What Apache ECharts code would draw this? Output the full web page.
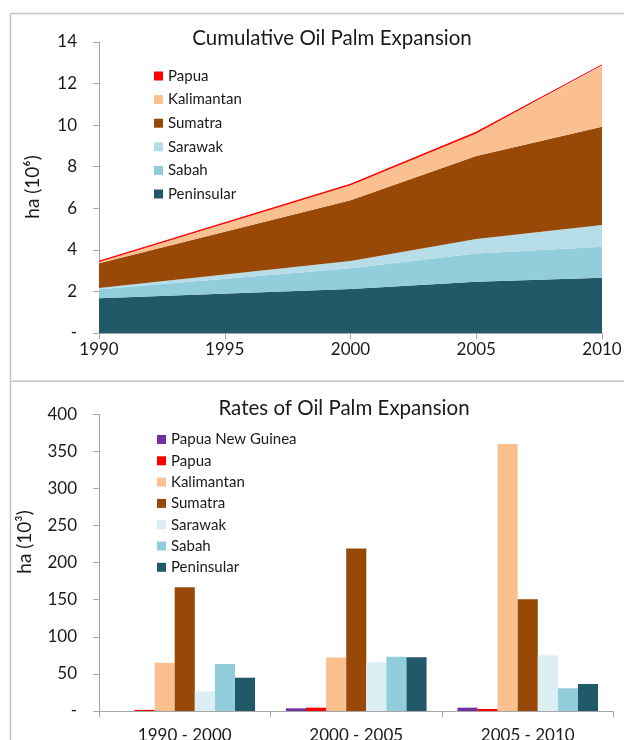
<!DOCTYPE html>
<html>
<head>
<meta charset="utf-8">
<script src="https://cdn.jsdelivr.net/npm/echarts@6/dist/echarts.min.js"></script>
<style>
html,body{margin:0;padding:0;background:#fff;}
#chart{width:624px;height:740px;}
</style>
</head>
<body>
<div id="chart"></div>
<script>
// ---- Cumulative chart data (layer thickness, ha x 10^6) ----
var years = [1990, 2000, 2005, 2010];
var cumPeninsular = [1.67, 2.12, 2.47, 2.66];
var cumSabah      = [0.43, 0.99, 1.36, 1.49];
var cumSarawak    = [0.06, 0.35, 0.69, 1.04];
var cumSumatra    = [1.19, 2.93, 3.99, 4.73];
var cumKalimantan = [0.07, 0.72, 1.09, 2.93];
var cumPapua      = [0.03, 0.04, 0.06, 0.05];

// ---- Rates chart data (ha x 10^3 per year) ----
var periods = ['1990 - 2000', '2000 - 2005', '2005 - 2010'];
var ratePNG        = [0, 3.6, 4.5];
var ratePapua      = [1.5, 4.5, 2.7];
var rateKalimantan = [65, 72, 360];
var rateSumatra    = [167, 219, 150.5];
var rateSarawak    = [26.5, 65.6, 75];
var rateSabah      = [63.4, 73.2, 30.6];
var ratePeninsular = [44.9, 72.4, 36.4];

var topTicks = [0, 2, 4, 6, 8, 10, 12, 14];
var bottomTicks = [0, 50, 100, 150, 200, 250, 300, 350, 400];

var C = {
  pen: '#215968', sab: '#92cddc', sarTop: '#b7dee8', sarBot: '#dbeef4',
  sum: '#984807', kal: '#fac090', pap: '#ff0000', png: '#7030a0'
};
var FONT = 'Lato';
var AX = '#a6a6a6';
var TXT = '#1a1a1a';

// value first so that the stacked dimension is the y value
function pairs(v) { return years.map(function (y, i) { return [v[i], y]; }); }
function area(name, vals, color, line) {
  return {
    name: name, type: 'line', xAxisIndex: 0, yAxisIndex: 0, stack: 'cum',
    dimensions: ['value', 'year'], encode: { x: 'year', y: 'value' },
    data: pairs(vals), color: color, showSymbol: false, symbol: 'none',
    lineStyle: line ? { width: 1.1, color: color } : { width: 0 },
    areaStyle: { color: color, opacity: 1 }, silent: true
  };
}
function bar(name, vals, color) {
  return {
    name: name, type: 'bar', xAxisIndex: 1, yAxisIndex: 1, data: vals,
    color: color, itemStyle: { color: color },
    barGap: '0%', barCategoryGap: '18%', silent: true
  };
}
function dashZero(v) { return v === 0 ? '-' : String(v); }

var chart = echarts.init(document.getElementById('chart'), null, { renderer: 'canvas' });
chart.setOption({
  animation: false,
  backgroundColor: '#ffffff',
  textStyle: { fontFamily: FONT },
  title: [
    { text: 'Cumulative Oil Palm Expansion', left: 327, top: 23, textAlign: 'center',
      textStyle: { fontFamily: FONT, fontSize: 20.5, fontWeight: 'normal', color: TXT } },
    { text: 'Rates of Oil Palm Expansion', left: 339, top: 393, textAlign: 'center',
      textStyle: { fontFamily: FONT, fontSize: 20.5, fontWeight: 'normal', color: TXT } }
  ],
  legend: [
    { orient: 'vertical', left: 149, top: 63, icon: 'rect', itemWidth: 9, itemHeight: 9,
      itemGap: 7.6, selectedMode: false,
      textStyle: { fontFamily: FONT, fontSize: 15, color: TXT, lineHeight: 16 },
      data: [
        { name: 'Papua', itemStyle: { color: C.pap } },
        { name: 'Kalimantan', itemStyle: { color: C.kal } },
        { name: 'Sumatra', itemStyle: { color: C.sum } },
        { name: 'Sarawak', itemStyle: { color: C.sarTop } },
        { name: 'Sabah', itemStyle: { color: C.sab } },
        { name: 'Peninsular', itemStyle: { color: C.pen } }
      ] },
    { orient: 'vertical', left: 152, top: 427, icon: 'rect', itemWidth: 9, itemHeight: 9,
      itemGap: 6.3, selectedMode: false,
      textStyle: { fontFamily: FONT, fontSize: 15, color: TXT, lineHeight: 15 },
      data: [
        { name: 'Papua New Guinea', itemStyle: { color: C.png } },
        { name: 'Papua', itemStyle: { color: C.pap } },
        { name: 'Kalimantan', itemStyle: { color: C.kal } },
        { name: 'Sumatra', itemStyle: { color: C.sum } },
        { name: 'Sarawak', itemStyle: { color: C.sarBot } },
        { name: 'Sabah', itemStyle: { color: C.sab } },
        { name: 'Peninsular', itemStyle: { color: C.pen } }
      ] }
  ],
  grid: [
    { left: 99, right: 22, top: 42, bottom: 407, containLabel: false, outerBoundsMode: 'none' },
    { left: 99, right: 10.5, top: 414.3, bottom: 29, containLabel: false, outerBoundsMode: 'none' }
  ],
  xAxis: [
    { type: 'value', gridIndex: 0, min: 1990, max: 2010, interval: 5,
      splitLine: { show: false },
      axisLine: { show: true, lineStyle: { color: AX, width: 1 } },
      axisTick: { show: true, length: 6, lineStyle: { color: AX } },
      axisLabel: { margin: 8, fontFamily: FONT, fontSize: 17, color: TXT,
        formatter: function (v) { return String(v); } } },
    { type: 'category', gridIndex: 1, data: periods, boundaryGap: true,
      axisLine: { show: true, lineStyle: { color: AX, width: 1 } },
      axisTick: { show: true, length: 6, lineStyle: { color: AX } },
      axisLabel: { margin: 16, fontFamily: FONT, fontSize: 17, color: TXT } }
  ],
  yAxis: [
    { type: 'value', gridIndex: 0, min: topTicks[0], max: topTicks[topTicks.length - 1], interval: 2,
      splitLine: { show: false },
      axisLine: { show: true, lineStyle: { color: AX, width: 1 } },
      axisTick: { show: true, length: 6, lineStyle: { color: AX } },
      axisLabel: { margin: 22, fontFamily: FONT, fontSize: 17, color: TXT, formatter: dashZero } },
    { type: 'value', gridIndex: 1, min: bottomTicks[0], max: bottomTicks[bottomTicks.length - 1], interval: 50,
      splitLine: { show: false },
      axisLine: { show: true, lineStyle: { color: AX, width: 1 } },
      axisTick: { show: true, length: 6, lineStyle: { color: AX } },
      axisLabel: { margin: 22, fontFamily: FONT, fontSize: 17, color: TXT, formatter: dashZero } }
  ],
  graphic: [
    { type: 'line', shape: { x1: 10.5, y1: 13.5, x2: 624, y2: 13.5 }, style: { stroke: '#c4c4c4', lineWidth: 1.5 }, silent: true },
    { type: 'line', shape: { x1: 10.5, y1: 13.5, x2: 10.5, y2: 740 }, style: { stroke: '#c4c4c4', lineWidth: 1.5 }, silent: true },
    { type: 'line', shape: { x1: 10.5, y1: 381.3, x2: 624, y2: 381.3 }, style: { stroke: '#c4c4c4', lineWidth: 1.5 }, silent: true },
    { type: 'text', x: 33, y: 187, rotation: Math.PI / 2,
      style: { text: 'ha (10\u2076)', fontFamily: FONT, fontSize: 19, fill: TXT, textAlign: 'center', textVerticalAlign: 'middle' }, silent: true },
    { type: 'text', x: 25, y: 542, rotation: Math.PI / 2,
      style: { text: 'ha (10\u00b3)', fontFamily: FONT, fontSize: 19, fill: TXT, textAlign: 'center', textVerticalAlign: 'middle' }, silent: true }
  ],
  series: [
    area('Peninsular', cumPeninsular, C.pen),
    area('Sabah', cumSabah, C.sab),
    area('Sarawak', cumSarawak, C.sarTop),
    area('Sumatra', cumSumatra, C.sum),
    area('Kalimantan', cumKalimantan, C.kal),
    area('Papua', cumPapua, C.pap, true),
    bar('Papua New Guinea', ratePNG, C.png),
    bar('Papua', ratePapua, C.pap),
    bar('Kalimantan', rateKalimantan, C.kal),
    bar('Sumatra', rateSumatra, C.sum),
    bar('Sarawak', rateSarawak, C.sarBot),
    bar('Sabah', rateSabah, C.sab),
    bar('Peninsular', ratePeninsular, C.pen)
  ]
});
</script>
</body>
</html>
